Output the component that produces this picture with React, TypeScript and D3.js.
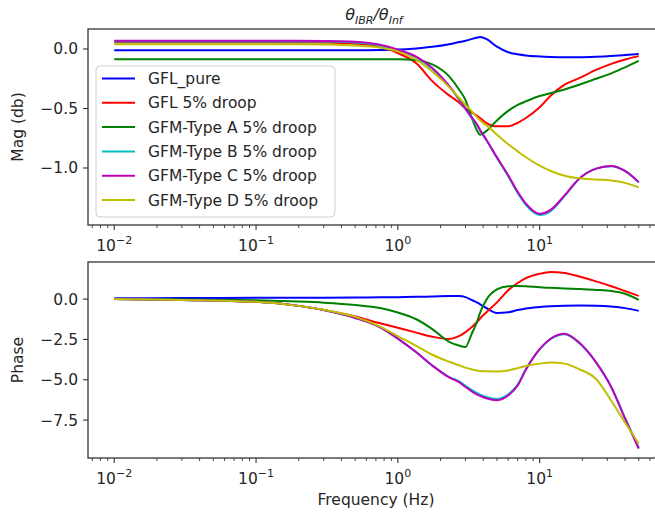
import React from "react";
import * as d3 from "d3";

const freq = [0.01, 0.03, 0.1, 0.2, 0.3, 0.5, 0.75, 1, 1.35, 1.75, 2.3, 2.7, 3, 3.3, 3.6, 3.8, 4.2, 5, 6, 7, 8, 10, 12, 15, 19, 25, 32, 40, 50];

const seriesNames = ["GFL_pure", "GFL 5% droop", "GFM-Type A 5% droop", "GFM-Type B 5% droop", "GFM-Type C 5% droop", "GFM-Type D 5% droop"];
const seriesColors = ["#0000ff", "#ff0000", "#008000", "#00bfbf", "#bf00bf", "#bfbf00"];

const magGFLpure = [-0.01, -0.01, -0.01, -0.01, -0.01, -0.01, -0.008, -0.005, 0.005, 0.018, 0.04, 0.058, 0.07, 0.083, 0.095, 0.1, 0.085, 0.02, -0.027, -0.045, -0.055, -0.063, -0.067, -0.069, -0.07, -0.066, -0.059, -0.05, -0.042];
const magGFL = [0.056, 0.056, 0.056, 0.055, 0.054, 0.045, 0.02, -0.035, -0.12, -0.27, -0.39, -0.45, -0.5, -0.53, -0.56, -0.58, -0.62, -0.65, -0.65, -0.62, -0.58, -0.49, -0.39, -0.3, -0.245, -0.176, -0.125, -0.088, -0.06];
const magA = [-0.087, -0.087, -0.087, -0.087, -0.087, -0.087, -0.087, -0.087, -0.095, -0.13, -0.23, -0.34, -0.43, -0.57, -0.68, -0.72, -0.69, -0.6, -0.52, -0.47, -0.44, -0.395, -0.37, -0.34, -0.3, -0.25, -0.205, -0.155, -0.1];
const magB = [0.064, 0.064, 0.064, 0.063, 0.062, 0.055, 0.03, -0.01, -0.07, -0.165, -0.315, -0.425, -0.505, -0.575, -0.635, -0.685, -0.765, -0.915, -1.07, -1.21, -1.31, -1.395, -1.36, -1.235, -1.09, -1.005, -0.985, -1.025, -1.12];
const magC = [0.07, 0.07, 0.07, 0.069, 0.067, 0.06, 0.035, -0.005, -0.065, -0.16, -0.31, -0.42, -0.5, -0.57, -0.63, -0.68, -0.76, -0.91, -1.06, -1.2, -1.3, -1.385, -1.35, -1.23, -1.09, -1.005, -0.983, -1.025, -1.12];
const magD = [0.04, 0.04, 0.04, 0.04, 0.038, 0.03, 0.012, -0.02, -0.09, -0.19, -0.32, -0.41, -0.47, -0.52, -0.57, -0.6, -0.64, -0.72, -0.8, -0.86, -0.91, -0.98, -1.025, -1.065, -1.087, -1.097, -1.105, -1.125, -1.162];

const phGFLpure = [0.05, 0.07, 0.08, 0.09, 0.09, 0.1, 0.11, 0.12, 0.14, 0.16, 0.19, 0.19, 0.12, -0.05, -0.2, -0.32, -0.55, -0.86, -0.82, -0.68, -0.58, -0.49, -0.44, -0.41, -0.4, -0.41, -0.46, -0.56, -0.73];
const phGFL = [0, -0.05, -0.17, -0.42, -0.68, -1.08, -1.5, -1.78, -2.08, -2.33, -2.47, -2.3, -2.05, -1.75, -1.45, -1.2, -0.83, -0.2, 0.55, 1.0, 1.3, 1.57, 1.68, 1.62, 1.4, 1.1, 0.8, 0.5, 0.2];
const phA = [0, -0.02, -0.07, -0.15, -0.22, -0.36, -0.55, -0.83, -1.25, -1.86, -2.65, -2.88, -2.97, -2.2, -1.45, -0.85, -0.05, 0.6, 0.8, 0.82, 0.8, 0.73, 0.7, 0.66, 0.62, 0.57, 0.5, 0.33, -0.05];
const phB = [0, -0.05, -0.17, -0.42, -0.68, -1.17, -1.75, -2.45, -3.3, -4.12, -4.83, -5.1, -5.38, -5.62, -5.82, -5.92, -6.07, -6.19, -5.9, -5.3, -4.35, -3.12, -2.47, -2.18, -2.72, -3.92, -5.44, -7.37, -9.22];
const phC = [0, -0.05, -0.17, -0.42, -0.68, -1.17, -1.75, -2.45, -3.3, -4.12, -4.85, -5.15, -5.45, -5.7, -5.9, -6.0, -6.15, -6.27, -5.98, -5.36, -4.37, -3.1, -2.44, -2.14, -2.69, -3.92, -5.46, -7.4, -9.27];
const phD = [0, -0.05, -0.17, -0.42, -0.66, -1.1, -1.7, -2.3, -2.9, -3.45, -3.88, -4.1, -4.25, -4.35, -4.42, -4.45, -4.48, -4.49, -4.42, -4.28, -4.15, -4.0, -3.93, -4.0, -4.35, -4.95, -6.3, -7.65, -8.96];

const magSeries = [magGFLpure, magGFL, magA, magB, magC, magD];
const phaseSeries = [phGFLpure, phGFL, phA, phB, phC, phD];

const xMajor = [0.01, 0.1, 1, 10];
const xMajorExp = ["−2", "−1", "0", "1"];
const magTicks = [0, -0.5, -1.0];
const magTickLabels = ["0.0", "−0.5", "−1.0"];
const phaseTicks = [0, -2.5, -5.0, -7.5];
const phaseTickLabels = ["0.0", "−2.5", "−5.0", "−7.5"];

const FONT = "DejaVu Sans, sans-serif";
const W = 655;
const H = 519;
const L = 88;
const R = 665;

const x = d3.scaleLog().domain([Math.pow(10, -2.185), Math.pow(10, 1.884)]).range([L, R]);
const yTop = d3.scaleLinear().domain([0.168, -1.479]).range([29, 225]);
const yBot = d3.scaleLinear().domain([2.3, -9.85]).range([262, 458]);

const minorTicks: number[] = [];
for (let e = -3; e <= 1; e++) {
  for (let m = 2; m <= 9; m++) {
    const v = m * Math.pow(10, e);
    if (v >= x.domain()[0] && v <= x.domain()[1]) minorTicks.push(v);
  }
}

function Panel({ y, series, ticks, tickLabels, top, bottom }: any) {
  const line = d3
    .line<number>()
    .x((_, i) => x(freq[i]))
    .y((d) => y(d))
    .curve(d3.curveMonotoneX);
  return (
    <g>
      <defs>
        <clipPath id={"clip" + top}>
          <rect x={L} y={top} width={R - L} height={bottom - top} />
        </clipPath>
      </defs>
      <g clipPath={`url(#clip${top})`}>
        {series.map((s: number[], i: number) => (
          <path key={i} d={line(s) || ""} fill="none" stroke={seriesColors[i]} strokeWidth={2} />
        ))}
      </g>
      <rect x={L} y={top} width={R - L} height={bottom - top} fill="none" stroke="#333" strokeWidth={1.3} />
      {ticks.map((t: number, i: number) => (
        <g key={i}>
          <line x1={L - 5} x2={L} y1={y(t)} y2={y(t)} stroke="#333" strokeWidth={1.1} />
          <text x={L - 10} y={y(t) + 5.5} textAnchor="end" fontFamily={FONT} fontSize={15.5} fill="#262626">
            {tickLabels[i]}
          </text>
        </g>
      ))}
      {xMajor.map((t, i) => (
        <g key={"M" + i}>
          <line x1={x(t)} x2={x(t)} y1={bottom} y2={bottom + 5} stroke="#333" strokeWidth={1.1} />
          <text x={x(t)} y={bottom + 26} textAnchor="middle" fontFamily={FONT} fontSize={15.5} fill="#262626">
            10
            <tspan fontSize={11} dy={-7}>
              {xMajorExp[i]}
            </tspan>
          </text>
        </g>
      ))}
      {minorTicks.map((t, i) => (
        <line key={"m" + i} x1={x(t)} x2={x(t)} y1={bottom} y2={bottom + 3} stroke="#333" strokeWidth={0.9} />
      ))}
    </g>
  );
}

export default function App() {
  const legendTop = 66;
  const legendStep = 24.3;
  return (
    <div style={{ position: "absolute", left: 0, top: 0 }}>
      <svg width={W} height={H} style={{ display: "block", background: "#fff" }}>
        <rect x={0} y={0} width={W} height={H} fill="#fff" />
        <Panel y={yTop} series={magSeries} ticks={magTicks} tickLabels={magTickLabels} top={29} bottom={225} />
        <Panel y={yBot} series={phaseSeries} ticks={phaseTicks} tickLabels={phaseTickLabels} top={262} bottom={458} />

        {/* title */}
        <text x={374} y={20} textAnchor="middle" fontFamily={FONT} fontSize={16} fontStyle="italic" fill="#262626">
          θ
          <tspan fontSize={11} dy={4}>IBR</tspan>
          <tspan dy={-4}>/θ</tspan>
          <tspan fontSize={11} dy={4}>Inf</tspan>
        </text>

        {/* axis labels */}
        <text transform={`translate(23,127) rotate(-90)`} textAnchor="middle" fontFamily={FONT} fontSize={15.5} fill="#262626">
          Mag (db)
        </text>
        <text transform={`translate(23,360) rotate(-90)`} textAnchor="middle" fontFamily={FONT} fontSize={15.5} fill="#262626">
          Phase
        </text>
        <text x={376} y={505} textAnchor="middle" fontFamily={FONT} fontSize={15.5} fill="#262626">
          Frequency (Hz)
        </text>

        {/* legend */}
        <rect x={96} y={legendTop} width={239} height={151} rx={4} fill="#fff" fillOpacity={0.85} stroke="#d0d0d0" strokeWidth={1} />
        {seriesNames.map((n, i) => {
          const cy = 78.5 + i * legendStep;
          return (
            <g key={i}>
              <line x1={102} x2={135} y1={cy} y2={cy} stroke={seriesColors[i]} strokeWidth={2} />
              <text x={148} y={cy + 5.5} fontFamily={FONT} fontSize={15.5} fill="#262626">
                {n}
              </text>
            </g>
          );
        })}
      </svg>
    </div>
  );
}
